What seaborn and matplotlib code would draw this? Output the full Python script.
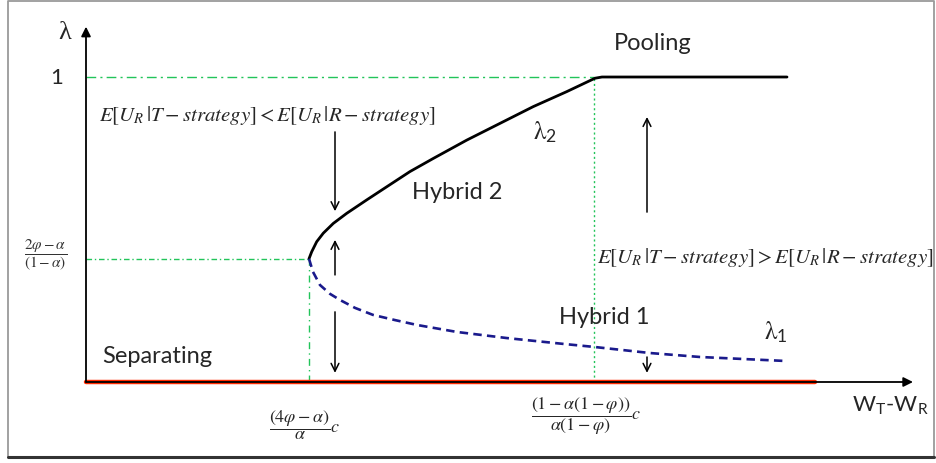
import numpy as np
import pandas as pd
import seaborn as sns
import matplotlib.pyplot as plt

sns.set_style('white')
plt.rcParams['mathtext.fontset'] = 'stix'
plt.rcParams['font.family'] = ['Lato', 'DejaVu Sans']

# thresholds (x in units of W_T-W_R, y is lambda)
x_low = 2.23       # (4phi-alpha)/alpha * c
x_high = 5.08      # (1-alpha(1-phi))/(alpha(1-phi)) * c
lam_star = 0.404   # (2phi-alpha)/(1-alpha)
x_pool_end = 7.01
x_sep_end = 7.29
x_axis_end = 8.27
y_axis_end = 1.165

# lambda_2 : hybrid 2 branch, then pooling at lambda = 1
lam2_x = [2.23, 2.257, 2.307, 2.373, 2.473, 2.607, 2.807, 3.007, 3.24, 3.473, 3.807,
          4.14, 4.473, 4.807, 5.09, 5.16, 7.01]
lam2_y = [0.404, 0.427, 0.460, 0.488, 0.520, 0.553, 0.597, 0.640, 0.690, 0.733, 0.793,
          0.848, 0.903, 0.952, 0.996, 1.0, 1.0]

# lambda_1 : hybrid 1 branch (dashed)
lam1_x = [2.23, 2.27, 2.34, 2.44, 2.54, 2.69, 2.87, 3.09, 3.31, 3.71, 4.21, 4.77, 5.08, 5.64, 6.14, 6.99]
lam1_y = [0.404, 0.361, 0.318, 0.289, 0.269, 0.243, 0.220, 0.203, 0.187, 0.164, 0.144, 0.125, 0.115, 0.095, 0.082, 0.069]

# direction arrows (x, tail lambda, head lambda)
arrow_x = [2.49, 2.49, 2.49, 5.61, 5.61]
arrow_from = [0.820, 0.351, 0.230, 0.557, 0.082]
arrow_to = [0.560, 0.466, 0.030, 0.869, 0.030]

fig = plt.figure(figsize=(9.36, 4.63), dpi=100)
ax = fig.add_axes([0, 0, 1, 1])
ax.set_xlim(-0.86, 8.50)
ax.set_ylim(-0.2656, 1.2525)
ax.axis('off')

# frame around the picture
tr = ax.transAxes
ax.plot([8/936, 8/936, 934/936, 934/936], [6/463, 462/463, 462/463, 6/463], color='#9a9a9a', lw=1.3, transform=tr)
ax.plot([8/936, 934/936], [6/463, 6/463], color='#333333', lw=2.2, transform=tr)

# guide lines
green = '#22c45a'
ax.plot([0, x_high], [1, 1], color=green, lw=1.0, ls=(0, (7, 3, 1.5, 3)))
ax.plot([x_high, x_high], [0, 1], color=green, lw=1.0, ls=(0, (1.5, 2)))
ax.plot([0, x_low], [lam_star, lam_star], color=green, lw=1.0, ls=(0, (4, 2, 1, 2)))
ax.plot([x_low, x_low], [0, lam_star], color=green, lw=1.0, ls=(0, (5, 3, 1, 3)))

# axes with arrows
ax.annotate('', xy=(x_axis_end, 0), xytext=(0, 0),
            arrowprops=dict(arrowstyle='-|>', color='black', lw=1.3, mutation_scale=14, shrinkA=0, shrinkB=0))
ax.annotate('', xy=(0, y_axis_end), xytext=(0, 0),
            arrowprops=dict(arrowstyle='-|>', color='black', lw=1.3, mutation_scale=14, shrinkA=0, shrinkB=0))

# separating equilibrium (red)
sns.lineplot(x=[0, x_sep_end], y=[0, 0], color='#ff2a00', lw=3.2, ax=ax)

# curves
sns.lineplot(x=lam2_x, y=lam2_y, color='black', lw=2.0, ax=ax, sort=False)
sns.lineplot(x=lam1_x, y=lam1_y, color='#1a1a8c', lw=1.9, ax=ax, sort=False, linestyle=(0, (3.2, 2.0)))

for xa, y0, y1 in zip(arrow_x, arrow_from, arrow_to):
    ax.annotate('', xy=(xa, y1), xytext=(xa, y0),
                arrowprops=dict(arrowstyle='->', color='black', lw=1.1, mutation_scale=14, shrinkA=0, shrinkB=0))

# labels
ax.text(-0.21, 1.144, 'λ', family='Liberation Serif', fontsize=19, ha='center', va='center')
ax.text(-0.29, 0.997, '1', fontsize=16, ha='center', va='center')
ax.text(-0.40, 0.416, r'$\dfrac{2\varphi-\alpha}{(1-\alpha)}$', fontsize=11, ha='center', va='center', color='#333333')
ax.text(2.19, -0.141, r'$\dfrac{(4\varphi-\alpha)}{\alpha}c$', fontsize=13, ha='center', va='center')
ax.text(5.00, -0.111, r'$\dfrac{(1-\alpha(1-\varphi))}{\alpha(1-\varphi)}c$', fontsize=13, ha='center', va='center')
ax.text(8.04, -0.075, r'W$_\mathregular{T}$-W$_\mathregular{R}$', fontsize=16, ha='center', va='center')

ax.text(0.71, 0.082, 'Separating', fontsize=17, ha='center', va='center')
ax.text(5.18, 0.210, 'Hybrid 1', fontsize=17, ha='center', va='center')
ax.text(3.71, 0.620, 'Hybrid 2', fontsize=17, ha='center', va='center')
ax.text(5.67, 1.111, 'Pooling', fontsize=17, ha='center', va='center')
ax.text(4.59, 0.820, r'$\mathrm{\lambda}_\mathregular{2}$', fontsize=18, ha='center', va='center')
ax.text(6.90, 0.164, r'$\mathrm{\lambda}_\mathregular{1}$', fontsize=18, ha='center', va='center')

ax.text(0.13, 0.875, r'$E[U_R\,|T - strategy] < E[U_R\,|R - strategy]$', fontsize=15, ha='left', va='center')
ax.text(5.11, 0.407, r'$E[U_R\,|T - strategy] > E[U_R\,|R - strategy]$', fontsize=15, ha='left', va='center')

fig.savefig('out.png', dpi=100)
